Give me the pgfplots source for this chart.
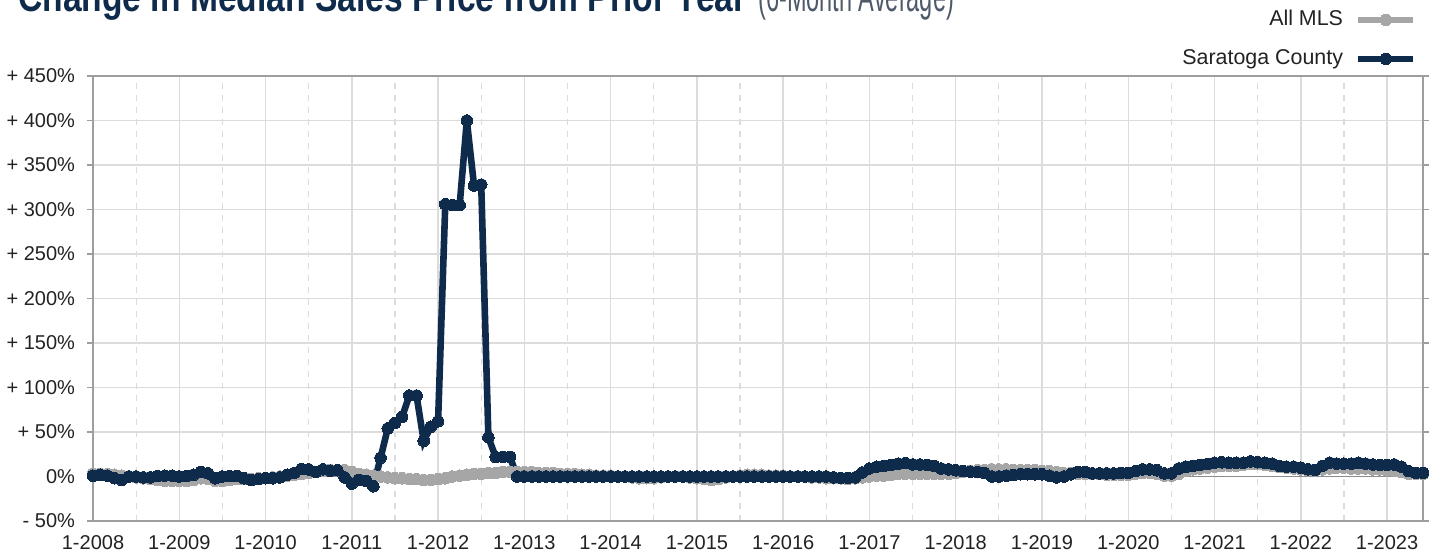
\documentclass[border=0pt]{standalone}
\usepackage{fontspec}
\setmainfont{Liberation Sans}
\newfontfamily\titlefont[FakeStretch=0.80]{Liberation Sans}
\newfontfamily\titlelight[FakeStretch=0.56]{Liberation Sans}
\usepackage{pgfplots}
\usepackage{pgfplotstable}
\pgfplotsset{compat=1.18}
\definecolor{navy}{HTML}{0F2B4C}
\definecolor{mlsgray}{HTML}{A6A6A6}
\definecolor{gridgray}{HTML}{DCDCDC}
\definecolor{axisgray}{HTML}{9E9E9E}
\definecolor{zerogray}{HTML}{8C8C8C}
\definecolor{labelcol}{HTML}{222222}
\definecolor{subgray}{HTML}{4E5A6A}

\pgfplotstableread{
m v
0 1
1 2
2 1
3 -2
4 -4
5 0
6 0
7 -1
8 -1
9 0.5
10 1
11 1
12 0
13 0.5
14 2
15 5
16 3.5
17 -2
18 0
19 0.5
20 0.5
21 -2
22 -4
23 -3
24 -2
25 -2
26 -1
27 2
28 4
29 8.5
30 8
31 5
32 8
33 6.5
34 7
35 -1
36 -8
37 -4
38 -5
39 -11
40 21
41 54
42 60
43 67
44 91
45 91
46 40
47 56
48 62
49 306
50 305
51 305
52 400
53 327
54 328
55 44
56 22
57 22
58 22
59 0
60 0
61 0
62 0
63 0
64 0
65 0
66 0
67 0
68 0
69 0
70 0
71 0
72 0
73 0
74 0
75 0
76 0
77 0
78 0
79 0
80 0
81 0
82 0
83 0
84 0
85 0
86 0
87 0
88 0
89 0
90 0
91 0
92 0
93 0
94 0
95 0
96 0
97 0
98 0
99 0
100 0
101 0
102 0
103 -1
104 -1.5
105 -1.5
106 -1
107 4.5
108 9
109 11
110 12
111 13
112 14.5
113 15
114 13.5
115 13.5
116 13
117 12
118 9
119 8
120 7
121 6
122 5.5
123 5
124 4
125 0
126 0
127 1
128 1.5
129 2.5
130 2.5
131 2.5
132 2.5
133 1
134 -1
135 0
136 2.5
137 5
138 5
139 3.5
140 3.5
141 3.5
142 3.5
143 4
144 4
145 6
146 8
147 8
148 7
149 3.5
150 3.5
151 9
152 11
153 12
154 13
155 14
156 15.5
157 16
158 15.5
159 15.5
160 15.5
161 17
162 16
163 15.5
164 14.5
165 12
166 11
167 11
168 10
169 8
170 7.5
171 12
172 15.5
173 14.5
174 14.5
175 14.5
176 15.5
177 14.5
178 13.5
179 13
180 13
181 13.5
182 11
183 6
184 4
185 4
}\saratoga

\pgfplotstableread{
m v
0 3
1 3
2 3
3 2
4 1
5 0
6 -1
7 -2
8 -3
9 -4
10 -5
11 -5
12 -5
13 -5
14 -4
15 -2
16 -3
17 -5
18 -5
19 -4
20 -3
21 -3
22 -3
23 -2
24 -2
25 -1
26 0
27 1
28 2
29 3
30 4
31 5
32 6
33 7
34 7
35 7
36 5
37 3
38 2
39 1
40 0
41 -1
42 -2
43 -2
44 -3
45 -3
46 -4
47 -4
48 -3
49 -2
50 0
51 1
52 2
53 3
54 3
55 4
56 4
57 5
58 5
59 5
60 5
61 5
62 4
63 4
64 4
65 3
66 3
67 3
68 2
69 2
70 1
71 1
72 1
73 0
74 0
75 -1
76 -2
77 -2
78 -2
79 -1
80 0
81 0
82 0
83 -1
84 -2
85 -3
86 -4
87 -3
88 -1
89 0
90 1
91 2
92 2
93 2
94 1
95 1
96 1
97 0
98 0
99 0
100 -1
101 -1
102 -2
103 -2
104 -2
105 -3
106 -2
107 -1
108 0
109 1
110 1
111 2
112 3
113 3
114 3
115 3
116 3
117 3
118 3
119 3
120 4
121 5
122 6
123 7
124 7
125 8
126 8
127 8
128 7
129 7
130 7
131 7
132 6
133 6
134 5
135 4
136 4
137 3
138 3
139 3
140 3
141 2
142 2
143 2
144 2
145 3
146 4
147 4
148 3
149 1
150 1
151 3
152 6
153 8
154 9
155 10
156 11
157 12
158 12
159 12
160 13
161 14
162 14
163 13
164 12
165 11
166 10
167 9
168 8
169 7
170 7
171 8
172 9
173 10
174 10
175 9
176 9
177 9
178 8
179 8
180 7
181 6
182 5
183 3
184 3
185 3
}\allmls

\begin{document}
\begin{tikzpicture}
\useasboundingbox (0,0) rectangle (714.5pt,276pt);
\node[anchor=base west, inner sep=0pt] at (9pt,270pt)
  {\fontsize{21}{24}\selectfont{\titlefont\bfseries\color{navy}Change in Median Sales Price from Prior Year} {\titlelight\color{subgray}(6-Month Average)}};
\begin{axis}[
  at={(46.5pt,15.5pt)}, anchor=south west,
  width=665pt, height=222.5pt, scale only axis,
  xmin=0, xmax=185, ymin=-50, ymax=450,
  xtick={0,12,...,180},
  xticklabels={1-2008,1-2009,1-2010,1-2011,1-2012,1-2013,1-2014,1-2015,1-2016,1-2017,1-2018,1-2019,1-2020,1-2021,1-2022,1-2023},
  minor xtick={6,18,...,182},
  ytick={-50,0,...,450},
  yticklabels={- 50\%,0\%,+ 50\%,+ 100\%,+ 150\%,+ 200\%,+ 250\%,+ 300\%,+ 350\%,+ 400\%,+ 450\%},
  xmajorgrids, xminorgrids, ymajorgrids,
  major grid style={draw=gridgray, line width=0.75pt},
  minor grid style={draw=gridgray, dashed, line width=0.6pt},
  axis line style={draw=axisgray, line width=0.8pt},
  tick align=outside,
  xtick style={draw=none},
  minor tick length=0pt,
  ytick style={draw=axisgray, line width=0.6pt},
  major tick length=3pt,
  tick label style={font=\fontsize{10}{12}\selectfont, color=labelcol},
  yticklabel style={xshift=-2.5pt},
  xticklabel style={yshift=-0.6pt},
  legend cell align=right,
  legend plot pos=right,
  legend style={at={(axis description cs:0.9955,1.154)}, anchor=north east, draw=none, fill=none,
    font=\fontsize{10.7}{12}\selectfont, text=labelcol, row sep=7.5pt, column sep=5pt, inner sep=0pt,
    nodes={inner sep=1pt, text height=8pt, text depth=2pt}},
  legend image code/.code={\draw[#1,mark repeat=2,mark phase=2] plot coordinates {(0pt,0pt) (13.75pt,0pt) (27.5pt,0pt)};},
  clip=false,
]
\draw[zerogray, line width=0.9pt] (axis cs:0,0) -- (axis cs:185,0);
\addplot[mlsgray, line width=3.3pt, mark=*, mark size=2.9pt, mark options={fill=mlsgray, draw=mlsgray, line width=0pt}] table[x=m,y=v] {\allmls};
\addlegendentry{All MLS}
\addplot[navy, line width=3.3pt, mark=*, mark size=2.9pt, mark options={fill=navy, draw=navy, line width=0pt}] table[x=m,y=v] {\saratoga};
\addlegendentry{Saratoga County}
\end{axis}
\end{tikzpicture}
\end{document}
